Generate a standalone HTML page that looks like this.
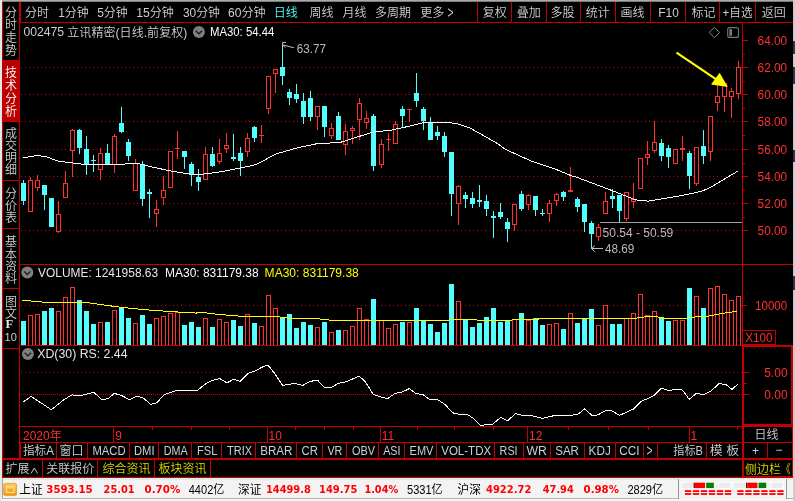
<!DOCTYPE html>
<html lang="zh"><head><meta charset="utf-8"><title>002475 立讯精密</title>
<style>html,body{margin:0;padding:0;background:#000;overflow:hidden}svg{display:block;will-change:transform;opacity:0.9999}text{white-space:pre}</style>
</head><body>
<svg width="795" height="501" viewBox="0 0 795 501" font-family='"Liberation Sans", "Noto Sans CJK SC", sans-serif' font-size="12" font-weight="350">
<rect x="0" y="0" width="795" height="501" fill="#000" />
<rect x="0" y="0" width="795" height="1" fill="#acacac" />
<rect x="0" y="1" width="795" height="1" fill="#7c7c7c" />
<rect x="0" y="0" width="2" height="501" fill="#e8e8e8" />
<rect x="793" y="0" width="2" height="501" fill="#cccccc" />
<rect x="793" y="41" width="2" height="13" fill="#283850" />
<rect x="793" y="67" width="2" height="17" fill="#283850" />
<rect x="793" y="150" width="2" height="12" fill="#283850" />
<rect x="793" y="276" width="2" height="14" fill="#283850" />
<rect x="2" y="2" width="1" height="475" fill="#c40000" />
<rect x="19" y="2" width="1" height="457" fill="#c40000" />
<rect x="20" y="2" width="1" height="20" fill="#c40000" />
<rect x="3" y="60" width="16" height="61" fill="#bc0000" />
<rect x="3" y="60" width="16" height="1" fill="#c40000" />
<rect x="3" y="121" width="16" height="1" fill="#c40000" />
<rect x="3" y="180" width="16" height="1" fill="#c40000" />
<rect x="3" y="228" width="16" height="1" fill="#c40000" />
<rect x="3" y="288" width="16" height="1" fill="#c40000" />
<rect x="3" y="348" width="16" height="1" fill="#c40000" />
<text x="11" y="16.5" fill="#d0d0d0" text-anchor="middle" >分</text>
<text x="11" y="29.2" fill="#d0d0d0" text-anchor="middle" >时</text>
<text x="11" y="42" fill="#d0d0d0" text-anchor="middle" >走</text>
<text x="11" y="54.7" fill="#d0d0d0" text-anchor="middle" >势</text>
<text x="11" y="77" fill="#ffffff" text-anchor="middle" >技</text>
<text x="11" y="90" fill="#ffffff" text-anchor="middle" >术</text>
<text x="11" y="103" fill="#ffffff" text-anchor="middle" >分</text>
<text x="11" y="115.7" fill="#ffffff" text-anchor="middle" >析</text>
<text x="11" y="138" fill="#d0d0d0" text-anchor="middle" >成</text>
<text x="11" y="150" fill="#d0d0d0" text-anchor="middle" >交</text>
<text x="11" y="162" fill="#d0d0d0" text-anchor="middle" >明</text>
<text x="11" y="174" fill="#d0d0d0" text-anchor="middle" >细</text>
<text x="11" y="198.2" fill="#d0d0d0" text-anchor="middle" >分</text>
<text x="11" y="210.2" fill="#d0d0d0" text-anchor="middle" >价</text>
<text x="11" y="222.2" fill="#d0d0d0" text-anchor="middle" >表</text>
<text x="11" y="246" fill="#d0d0d0" text-anchor="middle" >基</text>
<text x="11" y="258.5" fill="#d0d0d0" text-anchor="middle" >本</text>
<text x="11" y="270.7" fill="#d0d0d0" text-anchor="middle" >资</text>
<text x="11" y="282.7" fill="#d0d0d0" text-anchor="middle" >料</text>
<text x="11" y="305.5" fill="#d0d0d0" text-anchor="middle" >图</text>
<text x="11" y="318" fill="#d0d0d0" text-anchor="middle" >文</text>
<text x="9.2" y="327.6" fill="#e8e8e8" font-size="12.5" text-anchor="middle" font-weight="bold" font-family='"Liberation Serif", serif' >F</text>
<text x="10.7" y="341.3" fill="#d0d0d0" font-size="11" text-anchor="middle" >10</text>
<rect x="20" y="22" width="773" height="1" fill="#c40000" />
<text x="24.9" y="16.6" fill="#d0d0d0" >分时</text>
<text x="58.2" y="16.6" fill="#d0d0d0" textLength="30.6" lengthAdjust="spacingAndGlyphs" >1分钟</text>
<text x="97.2" y="16.6" fill="#d0d0d0" textLength="30.6" lengthAdjust="spacingAndGlyphs" >5分钟</text>
<text x="136.2" y="16.6" fill="#d0d0d0" textLength="37.8" lengthAdjust="spacingAndGlyphs" >15分钟</text>
<text x="183" y="16.6" fill="#d0d0d0" textLength="37" lengthAdjust="spacingAndGlyphs" >30分钟</text>
<text x="228" y="16.6" fill="#d0d0d0" textLength="37.5" lengthAdjust="spacingAndGlyphs" >60分钟</text>
<text x="273.8" y="16.6" fill="#54ffff" >日线</text>
<text x="309.4" y="16.6" fill="#d0d0d0" >周线</text>
<text x="342.4" y="16.6" fill="#d0d0d0" >月线</text>
<text x="375" y="16.6" fill="#d0d0d0" >多周期</text>
<text x="420.2" y="16.6" fill="#d0d0d0" >更多</text>
<text x="447.6" y="17.6" fill="#d0d0d0" font-size="16" textLength="6" lengthAdjust="spacingAndGlyphs" >&gt;</text>
<rect x="477" y="2" width="1" height="20" fill="#c40000" />
<rect x="511" y="2" width="1" height="20" fill="#c40000" />
<rect x="546" y="2" width="1" height="20" fill="#c40000" />
<rect x="580" y="2" width="1" height="20" fill="#c40000" />
<rect x="615" y="2" width="1" height="20" fill="#c40000" />
<rect x="650" y="2" width="1" height="20" fill="#c40000" />
<rect x="685" y="2" width="1" height="20" fill="#c40000" />
<rect x="719" y="2" width="1" height="20" fill="#c40000" />
<rect x="755" y="2" width="1" height="20" fill="#c40000" />
<rect x="792" y="345" width="1" height="132" fill="#c40000" />
<text x="482.8" y="16.6" fill="#d0d0d0" >复权</text>
<text x="516.8" y="16.6" fill="#d0d0d0" >叠加</text>
<text x="550.5" y="16.6" fill="#d0d0d0" >多股</text>
<text x="585.8" y="16.6" fill="#d0d0d0" >统计</text>
<text x="620.6" y="16.6" fill="#d0d0d0" >画线</text>
<text x="658.3" y="16.6" fill="#d0d0d0" textLength="20.6" lengthAdjust="spacingAndGlyphs" >F10</text>
<text x="691.5" y="16.6" fill="#d0d0d0" >标记</text>
<text x="722.6" y="16.6" fill="#d0d0d0" textLength="30" lengthAdjust="spacingAndGlyphs" >+自选</text>
<text x="761.8" y="16.6" fill="#d0d0d0" >返回</text>
<rect x="742" y="23" width="1" height="322" fill="#c40000" />
<rect x="20" y="264" width="773" height="1" fill="#c40000" />
<rect x="20" y="345" width="773" height="1" fill="#c40000" />
<line x1="21" x2="742" y1="67.5" y2="67.5" stroke="#c40000" stroke-dasharray="1 3" shape-rendering="crispEdges"/>
<line x1="21" x2="742" y1="94.5" y2="94.5" stroke="#c40000" stroke-dasharray="1 3" shape-rendering="crispEdges"/>
<line x1="21" x2="742" y1="121.5" y2="121.5" stroke="#c40000" stroke-dasharray="1 3" shape-rendering="crispEdges"/>
<line x1="21" x2="742" y1="149.5" y2="149.5" stroke="#c40000" stroke-dasharray="1 3" shape-rendering="crispEdges"/>
<line x1="21" x2="742" y1="176.5" y2="176.5" stroke="#c40000" stroke-dasharray="1 3" shape-rendering="crispEdges"/>
<line x1="21" x2="742" y1="203.5" y2="203.5" stroke="#c40000" stroke-dasharray="1 3" shape-rendering="crispEdges"/>
<line x1="21" x2="742" y1="230.5" y2="230.5" stroke="#c40000" stroke-dasharray="1 3" shape-rendering="crispEdges"/>
<rect x="742" y="40" width="6" height="1" fill="#c40000" />
<text x="757.6" y="45" fill="#ff3232" textLength="29.6" lengthAdjust="spacingAndGlyphs" >64.00</text>
<rect x="742" y="54" width="3" height="1" fill="#c40000" />
<rect x="742" y="67" width="6" height="1" fill="#c40000" />
<text x="757.6" y="72" fill="#ff3232" textLength="29.6" lengthAdjust="spacingAndGlyphs" >62.00</text>
<rect x="742" y="81" width="3" height="1" fill="#c40000" />
<rect x="742" y="94" width="6" height="1" fill="#c40000" />
<text x="757.6" y="99" fill="#ff3232" textLength="29.6" lengthAdjust="spacingAndGlyphs" >60.00</text>
<rect x="742" y="108" width="3" height="1" fill="#c40000" />
<rect x="742" y="121" width="6" height="1" fill="#c40000" />
<text x="757.6" y="126" fill="#ff3232" textLength="29.6" lengthAdjust="spacingAndGlyphs" >58.00</text>
<rect x="742" y="135" width="3" height="1" fill="#c40000" />
<rect x="742" y="149" width="6" height="1" fill="#c40000" />
<text x="757.6" y="154" fill="#ff3232" textLength="29.6" lengthAdjust="spacingAndGlyphs" >56.00</text>
<rect x="742" y="163" width="3" height="1" fill="#c40000" />
<rect x="742" y="176" width="6" height="1" fill="#c40000" />
<text x="757.6" y="181" fill="#ff3232" textLength="29.6" lengthAdjust="spacingAndGlyphs" >54.00</text>
<rect x="742" y="190" width="3" height="1" fill="#c40000" />
<rect x="742" y="203" width="6" height="1" fill="#c40000" />
<text x="757.6" y="208" fill="#ff3232" textLength="29.6" lengthAdjust="spacingAndGlyphs" >52.00</text>
<rect x="742" y="217" width="3" height="1" fill="#c40000" />
<rect x="742" y="230" width="6" height="1" fill="#c40000" />
<text x="757.6" y="235" fill="#ff3232" textLength="29.6" lengthAdjust="spacingAndGlyphs" >50.00</text>
<text x="23.5" y="36.4" fill="#d0d0d0" textLength="40.6" lengthAdjust="spacingAndGlyphs" >002475</text>
<text x="67.3" y="37.2" fill="#d0d0d0" textLength="120" lengthAdjust="spacingAndGlyphs" >立讯精密(日线.前复权)</text>
<circle cx="198.9" cy="31.9" r="6" fill="#808080"/>
<path d="M195.70000000000002 30.7 L198.9 33.8 L202.1 30.7" fill="none" stroke="#1c1c1c" stroke-width="1.3"/>
<text x="210" y="36.4" fill="#ffffff" textLength="64.3" lengthAdjust="spacingAndGlyphs" >MA30: 54.44</text>
<path d="M714.4 27.3 L719.6 32.5 L714.4 37.7 L709.2 32.5 Z" fill="none" stroke="#8a8a8a" stroke-width="1"/>
<rect x="727.7" y="27.6" width="10.8" height="9.8" rx="2" fill="none" stroke="#787878" stroke-width="1.1"/>
<rect x="729.3" y="29.2" width="2.8" height="6.6" fill="#787878" />
<g shape-rendering="crispEdges">
<rect x="23" y="180" width="1" height="25" fill="#54ffff" />
<rect x="21" y="183" width="5" height="18" fill="#54ffff" />
<rect x="30" y="177" width="1" height="3" fill="#ff3232" />
<rect x="28.5" y="180.5" width="4" height="31" fill="#000" stroke="#ff3232" stroke-width="1"/>
<rect x="37" y="175" width="1" height="5" fill="#ff3232" />
<rect x="37" y="188" width="1" height="3" fill="#ff3232" />
<rect x="35.5" y="180.5" width="4" height="7" fill="#000" stroke="#ff3232" stroke-width="1"/>
<rect x="44" y="185" width="1" height="25" fill="#54ffff" />
<rect x="42" y="185" width="5" height="10" fill="#54ffff" />
<rect x="51" y="198" width="1" height="29" fill="#54ffff" />
<rect x="49" y="198" width="5" height="29" fill="#54ffff" />
<rect x="58" y="201" width="1" height="13" fill="#ff3232" />
<rect x="58" y="232" width="1" height="1" fill="#ff3232" />
<rect x="56.5" y="214.5" width="4" height="17" fill="#000" stroke="#ff3232" stroke-width="1"/>
<rect x="65" y="171" width="1" height="12" fill="#ff3232" />
<rect x="63.5" y="183.5" width="4" height="14" fill="#000" stroke="#ff3232" stroke-width="1"/>
<rect x="72" y="129" width="1" height="1" fill="#ff3232" />
<rect x="72" y="151" width="1" height="26" fill="#ff3232" />
<rect x="70.5" y="130.5" width="4" height="20" fill="#000" stroke="#ff3232" stroke-width="1"/>
<rect x="79" y="129" width="1" height="25" fill="#54ffff" />
<rect x="77" y="130" width="5" height="18" fill="#54ffff" />
<rect x="86" y="136" width="1" height="39" fill="#54ffff" />
<rect x="84" y="149" width="5" height="16" fill="#54ffff" />
<rect x="93" y="155" width="1" height="17" fill="#54ffff" />
<rect x="91" y="160" width="5" height="1" fill="#54ffff" />
<rect x="100" y="148" width="1" height="5" fill="#ff3232" />
<rect x="100" y="170" width="1" height="10" fill="#ff3232" />
<rect x="98.5" y="153.5" width="4" height="16" fill="#000" stroke="#ff3232" stroke-width="1"/>
<rect x="107" y="144" width="1" height="20" fill="#54ffff" />
<rect x="105" y="153" width="5" height="11" fill="#54ffff" />
<rect x="114" y="134" width="1" height="2" fill="#ff3232" />
<rect x="114" y="165" width="1" height="8" fill="#ff3232" />
<rect x="112.5" y="136.5" width="4" height="28" fill="#000" stroke="#ff3232" stroke-width="1"/>
<rect x="121" y="107" width="1" height="26" fill="#54ffff" />
<rect x="119" y="123" width="5" height="9" fill="#54ffff" />
<rect x="128" y="139" width="1" height="22" fill="#54ffff" />
<rect x="126" y="142" width="5" height="14" fill="#54ffff" />
<rect x="135" y="159" width="1" height="4" fill="#ff3232" />
<rect x="133.5" y="163.5" width="4" height="27" fill="#000" stroke="#ff3232" stroke-width="1"/>
<rect x="142" y="161" width="1" height="45" fill="#54ffff" />
<rect x="140" y="164" width="5" height="35" fill="#54ffff" />
<rect x="149" y="189" width="1" height="29" fill="#54ffff" />
<rect x="147" y="192" width="5" height="2" fill="#54ffff" />
<rect x="156" y="200" width="1" height="9" fill="#ff3232" />
<rect x="156" y="214" width="1" height="13" fill="#ff3232" />
<rect x="154.5" y="209.5" width="4" height="4" fill="#000" stroke="#ff3232" stroke-width="1"/>
<rect x="163" y="176" width="1" height="14" fill="#ff3232" />
<rect x="163" y="198" width="1" height="7" fill="#ff3232" />
<rect x="161.5" y="190.5" width="4" height="7" fill="#000" stroke="#ff3232" stroke-width="1"/>
<rect x="168.5" y="151.5" width="4" height="36" fill="#000" stroke="#ff3232" stroke-width="1"/>
<rect x="177" y="131" width="1" height="17" fill="#ff3232" />
<rect x="177" y="149" width="1" height="10" fill="#ff3232" />
<rect x="175" y="148" width="5" height="1" fill="#ff3232" />
<rect x="184" y="151" width="1" height="18" fill="#54ffff" />
<rect x="182" y="151" width="5" height="6" fill="#54ffff" />
<rect x="191" y="162" width="1" height="24" fill="#54ffff" />
<rect x="189" y="164" width="5" height="11" fill="#54ffff" />
<rect x="198" y="169" width="1" height="22" fill="#54ffff" />
<rect x="196" y="177" width="5" height="5" fill="#54ffff" />
<rect x="205" y="147" width="1" height="7" fill="#ff3232" />
<rect x="203.5" y="154.5" width="4" height="25" fill="#000" stroke="#ff3232" stroke-width="1"/>
<rect x="212" y="147" width="1" height="20" fill="#54ffff" />
<rect x="210" y="154" width="5" height="12" fill="#54ffff" />
<rect x="219" y="139" width="1" height="14" fill="#ff3232" />
<rect x="219" y="162" width="1" height="2" fill="#ff3232" />
<rect x="217.5" y="153.5" width="4" height="8" fill="#000" stroke="#ff3232" stroke-width="1"/>
<rect x="226" y="133" width="1" height="12" fill="#ff3232" />
<rect x="226" y="149" width="1" height="4" fill="#ff3232" />
<rect x="224.5" y="145.5" width="4" height="3" fill="#000" stroke="#ff3232" stroke-width="1"/>
<rect x="233" y="134" width="1" height="27" fill="#54ffff" />
<rect x="231" y="157" width="5" height="2" fill="#54ffff" />
<rect x="240" y="147" width="1" height="29" fill="#54ffff" />
<rect x="238" y="153" width="5" height="8" fill="#54ffff" />
<rect x="247" y="133" width="1" height="5" fill="#ff3232" />
<rect x="247" y="152" width="1" height="5" fill="#ff3232" />
<rect x="245.5" y="138.5" width="4" height="13" fill="#000" stroke="#ff3232" stroke-width="1"/>
<rect x="254" y="126" width="1" height="16" fill="#54ffff" />
<rect x="252" y="127" width="5" height="11" fill="#54ffff" />
<rect x="261" y="125" width="1" height="10" fill="#ff3232" />
<rect x="261" y="136" width="1" height="7" fill="#ff3232" />
<rect x="259" y="135" width="5" height="1" fill="#ff3232" />
<rect x="268" y="109" width="1" height="5" fill="#ff3232" />
<rect x="266.5" y="76.5" width="4" height="32" fill="#000" stroke="#ff3232" stroke-width="1"/>
<rect x="275" y="74" width="1" height="19" fill="#ff3232" />
<rect x="273.5" y="69.5" width="4" height="4" fill="#000" stroke="#ff3232" stroke-width="1"/>
<rect x="282" y="44" width="1" height="41" fill="#54ffff" />
<rect x="280" y="67" width="5" height="9" fill="#54ffff" />
<rect x="289" y="89" width="1" height="16" fill="#54ffff" />
<rect x="287" y="92" width="5" height="6" fill="#54ffff" />
<rect x="296" y="84" width="1" height="19" fill="#54ffff" />
<rect x="294" y="94" width="5" height="5" fill="#54ffff" />
<rect x="303" y="93" width="1" height="31" fill="#54ffff" />
<rect x="301" y="101" width="5" height="16" fill="#54ffff" />
<rect x="310" y="91" width="1" height="30" fill="#54ffff" />
<rect x="308" y="98" width="5" height="19" fill="#54ffff" />
<rect x="317" y="117" width="1" height="13" fill="#ff3232" />
<rect x="315.5" y="106.5" width="4" height="10" fill="#000" stroke="#ff3232" stroke-width="1"/>
<rect x="324" y="106" width="1" height="31" fill="#54ffff" />
<rect x="322" y="106" width="5" height="21" fill="#54ffff" />
<rect x="331" y="123" width="1" height="5" fill="#ff3232" />
<rect x="331" y="136" width="1" height="3" fill="#ff3232" />
<rect x="329.5" y="128.5" width="4" height="7" fill="#000" stroke="#ff3232" stroke-width="1"/>
<rect x="338" y="112" width="1" height="28" fill="#54ffff" />
<rect x="336" y="116" width="5" height="24" fill="#54ffff" />
<rect x="345" y="124" width="1" height="7" fill="#ff3232" />
<rect x="345" y="145" width="1" height="10" fill="#ff3232" />
<rect x="343.5" y="131.5" width="4" height="13" fill="#000" stroke="#ff3232" stroke-width="1"/>
<rect x="352" y="126" width="1" height="2" fill="#ff3232" />
<rect x="352" y="131" width="1" height="13" fill="#ff3232" />
<rect x="350.5" y="128.5" width="4" height="2" fill="#000" stroke="#ff3232" stroke-width="1"/>
<rect x="359" y="98" width="1" height="5" fill="#ff3232" />
<rect x="359" y="120" width="1" height="20" fill="#ff3232" />
<rect x="357.5" y="103.5" width="4" height="16" fill="#000" stroke="#ff3232" stroke-width="1"/>
<rect x="366" y="111" width="1" height="7" fill="#ff3232" />
<rect x="366" y="123" width="1" height="6" fill="#ff3232" />
<rect x="364.5" y="118.5" width="4" height="4" fill="#000" stroke="#ff3232" stroke-width="1"/>
<rect x="373" y="114" width="1" height="57" fill="#54ffff" />
<rect x="371" y="116" width="5" height="50" fill="#54ffff" />
<rect x="381" y="139" width="1" height="5" fill="#ff3232" />
<rect x="381" y="165" width="1" height="3" fill="#ff3232" />
<rect x="379.5" y="144.5" width="4" height="20" fill="#000" stroke="#ff3232" stroke-width="1"/>
<rect x="388" y="133" width="1" height="6" fill="#ff3232" />
<rect x="388" y="140" width="1" height="11" fill="#ff3232" />
<rect x="386" y="139" width="5" height="1" fill="#ff3232" />
<rect x="395" y="121" width="1" height="3" fill="#ff3232" />
<rect x="393.5" y="124.5" width="4" height="19" fill="#000" stroke="#ff3232" stroke-width="1"/>
<rect x="402" y="106" width="1" height="22" fill="#54ffff" />
<rect x="400" y="109" width="5" height="7" fill="#54ffff" />
<rect x="409" y="110" width="1" height="12" fill="#ff3232" />
<rect x="407" y="109" width="5" height="1" fill="#ff3232" />
<rect x="416" y="73" width="1" height="34" fill="#54ffff" />
<rect x="414" y="93" width="5" height="8" fill="#54ffff" />
<rect x="423" y="107" width="1" height="23" fill="#54ffff" />
<rect x="421" y="109" width="5" height="12" fill="#54ffff" />
<rect x="430" y="117" width="1" height="23" fill="#54ffff" />
<rect x="428" y="122" width="5" height="18" fill="#54ffff" />
<rect x="437" y="126" width="1" height="14" fill="#54ffff" />
<rect x="435" y="132" width="5" height="4" fill="#54ffff" />
<rect x="444" y="132" width="1" height="25" fill="#54ffff" />
<rect x="442" y="136" width="5" height="16" fill="#54ffff" />
<rect x="451" y="152" width="1" height="64" fill="#54ffff" />
<rect x="449" y="152" width="5" height="42" fill="#54ffff" />
<rect x="458" y="185" width="1" height="1" fill="#ff3232" />
<rect x="458" y="204" width="1" height="21" fill="#ff3232" />
<rect x="456.5" y="186.5" width="4" height="17" fill="#000" stroke="#ff3232" stroke-width="1"/>
<rect x="465" y="192" width="1" height="16" fill="#54ffff" />
<rect x="463" y="195" width="5" height="4" fill="#54ffff" />
<rect x="472" y="192" width="1" height="16" fill="#54ffff" />
<rect x="470" y="198" width="5" height="6" fill="#54ffff" />
<rect x="479" y="185" width="1" height="22" fill="#54ffff" />
<rect x="477" y="200" width="5" height="2" fill="#54ffff" />
<rect x="486" y="195" width="1" height="21" fill="#54ffff" />
<rect x="484" y="201" width="5" height="8" fill="#54ffff" />
<rect x="493" y="211" width="1" height="27" fill="#54ffff" />
<rect x="491" y="216" width="5" height="2" fill="#54ffff" />
<rect x="500" y="203" width="1" height="16" fill="#54ffff" />
<rect x="498" y="212" width="5" height="5" fill="#54ffff" />
<rect x="507" y="218" width="1" height="24" fill="#54ffff" />
<rect x="505" y="222" width="5" height="7" fill="#54ffff" />
<rect x="514" y="225" width="1" height="6" fill="#ff3232" />
<rect x="512.5" y="204.5" width="4" height="20" fill="#000" stroke="#ff3232" stroke-width="1"/>
<rect x="521" y="191" width="1" height="20" fill="#54ffff" />
<rect x="519" y="194" width="5" height="15" fill="#54ffff" />
<rect x="528" y="194" width="1" height="1" fill="#ff3232" />
<rect x="528" y="205" width="1" height="5" fill="#ff3232" />
<rect x="526.5" y="195.5" width="4" height="9" fill="#000" stroke="#ff3232" stroke-width="1"/>
<rect x="535" y="196" width="1" height="20" fill="#54ffff" />
<rect x="533" y="196" width="5" height="14" fill="#54ffff" />
<rect x="542" y="209" width="1" height="7" fill="#54ffff" />
<rect x="540" y="213" width="5" height="1" fill="#54ffff" />
<rect x="549" y="200" width="1" height="3" fill="#ff3232" />
<rect x="549" y="214" width="1" height="8" fill="#ff3232" />
<rect x="547.5" y="203.5" width="4" height="10" fill="#000" stroke="#ff3232" stroke-width="1"/>
<rect x="556" y="193" width="1" height="1" fill="#ff3232" />
<rect x="556" y="201" width="1" height="5" fill="#ff3232" />
<rect x="554.5" y="194.5" width="4" height="6" fill="#000" stroke="#ff3232" stroke-width="1"/>
<rect x="563" y="191" width="1" height="10" fill="#54ffff" />
<rect x="561" y="192" width="5" height="5" fill="#54ffff" />
<rect x="570" y="167" width="1" height="23" fill="#ff3232" />
<rect x="568" y="190" width="5" height="2" fill="#ff3232" />
<rect x="577" y="197" width="1" height="15" fill="#54ffff" />
<rect x="575" y="199" width="5" height="8" fill="#54ffff" />
<rect x="584" y="204" width="1" height="28" fill="#54ffff" />
<rect x="582" y="204" width="5" height="18" fill="#54ffff" />
<rect x="591" y="221" width="1" height="28" fill="#54ffff" />
<rect x="589" y="223" width="5" height="11" fill="#54ffff" />
<rect x="598" y="224" width="1" height="3" fill="#ff3232" />
<rect x="598" y="237" width="1" height="4" fill="#ff3232" />
<rect x="596.5" y="227.5" width="4" height="9" fill="#000" stroke="#ff3232" stroke-width="1"/>
<rect x="605" y="192" width="1" height="9" fill="#ff3232" />
<rect x="603.5" y="201.5" width="4" height="12" fill="#000" stroke="#ff3232" stroke-width="1"/>
<rect x="612" y="189" width="1" height="19" fill="#54ffff" />
<rect x="610" y="196" width="5" height="3" fill="#54ffff" />
<rect x="619" y="195" width="1" height="27" fill="#54ffff" />
<rect x="617" y="195" width="5" height="16" fill="#54ffff" />
<rect x="626" y="219" width="1" height="2" fill="#ff3232" />
<rect x="624.5" y="192.5" width="4" height="26" fill="#000" stroke="#ff3232" stroke-width="1"/>
<rect x="633" y="183" width="1" height="16" fill="#ff3232" />
<rect x="633" y="202" width="1" height="6" fill="#ff3232" />
<rect x="631.5" y="199.5" width="4" height="2" fill="#000" stroke="#ff3232" stroke-width="1"/>
<rect x="638.5" y="158.5" width="4" height="30" fill="#000" stroke="#ff3232" stroke-width="1"/>
<rect x="647" y="141" width="1" height="13" fill="#ff3232" />
<rect x="647" y="158" width="1" height="7" fill="#ff3232" />
<rect x="645.5" y="154.5" width="4" height="3" fill="#000" stroke="#ff3232" stroke-width="1"/>
<rect x="654" y="121" width="1" height="21" fill="#ff3232" />
<rect x="654" y="151" width="1" height="2" fill="#ff3232" />
<rect x="652.5" y="142.5" width="4" height="8" fill="#000" stroke="#ff3232" stroke-width="1"/>
<rect x="661" y="139" width="1" height="22" fill="#54ffff" />
<rect x="659" y="143" width="5" height="13" fill="#54ffff" />
<rect x="668" y="145" width="1" height="23" fill="#54ffff" />
<rect x="666" y="148" width="5" height="9" fill="#54ffff" />
<rect x="673.5" y="149.5" width="4" height="14" fill="#000" stroke="#ff3232" stroke-width="1"/>
<rect x="682" y="136" width="1" height="12" fill="#ff3232" />
<rect x="682" y="150" width="1" height="11" fill="#ff3232" />
<rect x="680" y="148" width="5" height="2" fill="#ff3232" />
<rect x="689" y="151" width="1" height="38" fill="#54ffff" />
<rect x="687" y="153" width="5" height="23" fill="#54ffff" />
<rect x="696" y="184" width="1" height="2" fill="#ff3232" />
<rect x="694.5" y="147.5" width="4" height="36" fill="#000" stroke="#ff3232" stroke-width="1"/>
<rect x="703" y="130" width="1" height="34" fill="#54ffff" />
<rect x="701" y="146" width="5" height="10" fill="#54ffff" />
<rect x="710" y="152" width="1" height="9" fill="#ff3232" />
<rect x="708.5" y="116.5" width="4" height="35" fill="#000" stroke="#ff3232" stroke-width="1"/>
<rect x="717" y="85" width="1" height="11" fill="#ff3232" />
<rect x="717" y="103" width="1" height="8" fill="#ff3232" />
<rect x="715.5" y="96.5" width="4" height="6" fill="#000" stroke="#ff3232" stroke-width="1"/>
<rect x="724" y="97" width="1" height="15" fill="#ff3232" />
<rect x="722.5" y="83.5" width="4" height="13" fill="#000" stroke="#ff3232" stroke-width="1"/>
<rect x="731" y="88" width="1" height="3" fill="#ff3232" />
<rect x="731" y="97" width="1" height="21" fill="#ff3232" />
<rect x="729.5" y="91.5" width="4" height="5" fill="#000" stroke="#ff3232" stroke-width="1"/>
<rect x="738" y="61" width="1" height="6" fill="#ff3232" />
<rect x="738" y="94" width="1" height="5" fill="#ff3232" />
<rect x="736.5" y="67.5" width="4" height="26" fill="#000" stroke="#ff3232" stroke-width="1"/>
</g>
<rect x="600" y="222" width="142" height="1" fill="#a0a0a0" />
<polyline shape-rendering="crispEdges" fill="none" stroke="#ffffff" stroke-width="1" points="23.1,158.0 36.9,155.4 45.9,156.7 58.9,161.3 84.8,164.5 110.8,165.0 136.7,163.2 154.9,167.6 170.4,170.9 180.0,172.6 193.0,174.7 205.9,173.9 218.9,172.1 239.6,168.2 255.2,164.8 263.0,160.9 276.0,153.9 296.7,148.0 317.4,143.6 340.0,142.5 372.9,132.1 391.9,130.0 407.4,126.6 425.6,122.2 443.7,122.2 456.7,123.5 469.7,127.9 485.2,136.5 498.7,144.3 505.6,149.5 531.5,161.1 554.9,168.9 570.4,175.4 578.2,177.8 609.3,189.5 635.2,199.8 648.2,201.1 671.5,197.3 680.0,195.8 693.0,193.2 703.4,190.6 713.8,185.5 726.8,177.7 737.7,171.2"/>
<text x="296.8" y="53" fill="#bcbcbc" textLength="29.2" lengthAdjust="spacingAndGlyphs" >63.77</text>
<path d="M294 47.8 L282.6 44.9 M282.6 46 V42.4 H286 M283 45.2 L285.2 47.6" fill="none" stroke="#c0c0c0" stroke-width="1"/>
<text x="602.6" y="236.6" fill="#bcbcbc" textLength="70.7" lengthAdjust="spacingAndGlyphs" >50.54 - 50.59</text>
<text x="604.9" y="253.4" fill="#bcbcbc" textLength="29.4" lengthAdjust="spacingAndGlyphs" >48.69</text>
<path d="M603 248.5 H591.5 M594.8 245.6 L591.5 248.5 L594.8 251.8" fill="none" stroke="#c0c0c0" stroke-width="1"/>
<path d="M676.5 52.6 L717 79.8" stroke="#ffff00" stroke-width="2.2" fill="none"/>
<path d="M719.6 72.8 L711 84.6 L727.9 87 Z" fill="#ffff00"/>
<circle cx="27.3" cy="272.6" r="6" fill="#808080"/>
<path d="M24.1 271.40000000000003 L27.3 274.5 L30.5 271.40000000000003" fill="none" stroke="#1c1c1c" stroke-width="1.3"/>
<text x="38.1" y="277" fill="#e8e8e8" textLength="120" lengthAdjust="spacingAndGlyphs" >VOLUME: 1241958.63</text>
<text x="165" y="277" fill="#ffffff" textLength="93.7" lengthAdjust="spacingAndGlyphs" >MA30: 831179.38</text>
<text x="264.6" y="277" fill="#ffff00" textLength="94.2" lengthAdjust="spacingAndGlyphs" >MA30: 831179.38</text>
<line x1="21" x2="742" y1="305.5" y2="305.5" stroke="#c40000" stroke-dasharray="1 3" shape-rendering="crispEdges"/>
<g shape-rendering="crispEdges">
<rect x="21" y="321" width="5" height="24" fill="#54ffff" />
<rect x="28.5" y="315.5" width="4" height="30" fill="#000" stroke="#ff3232" stroke-width="1"/>
<rect x="35.5" y="314.5" width="4" height="31" fill="#000" stroke="#ff3232" stroke-width="1"/>
<rect x="42" y="311" width="5" height="34" fill="#54ffff" />
<rect x="49" y="308" width="5" height="37" fill="#54ffff" />
<rect x="56.5" y="311.5" width="4" height="34" fill="#000" stroke="#ff3232" stroke-width="1"/>
<rect x="63.5" y="297.5" width="4" height="48" fill="#000" stroke="#ff3232" stroke-width="1"/>
<rect x="70.5" y="287.5" width="4" height="58" fill="#000" stroke="#ff3232" stroke-width="1"/>
<rect x="77" y="300" width="5" height="45" fill="#54ffff" />
<rect x="84" y="311" width="5" height="34" fill="#54ffff" />
<rect x="91" y="324" width="5" height="21" fill="#54ffff" />
<rect x="98.5" y="322.5" width="4" height="23" fill="#000" stroke="#ff3232" stroke-width="1"/>
<rect x="105" y="322" width="5" height="23" fill="#54ffff" />
<rect x="112.5" y="310.5" width="4" height="35" fill="#000" stroke="#ff3232" stroke-width="1"/>
<rect x="119" y="307" width="5" height="38" fill="#54ffff" />
<rect x="126" y="318" width="5" height="27" fill="#54ffff" />
<rect x="133.5" y="323.5" width="4" height="22" fill="#000" stroke="#ff3232" stroke-width="1"/>
<rect x="140" y="315" width="5" height="30" fill="#54ffff" />
<rect x="147" y="324" width="5" height="21" fill="#54ffff" />
<rect x="154.5" y="318.5" width="4" height="27" fill="#000" stroke="#ff3232" stroke-width="1"/>
<rect x="161.5" y="316.5" width="4" height="29" fill="#000" stroke="#ff3232" stroke-width="1"/>
<rect x="168.5" y="313.5" width="4" height="32" fill="#000" stroke="#ff3232" stroke-width="1"/>
<rect x="175.5" y="312.5" width="4" height="33" fill="#000" stroke="#ff3232" stroke-width="1"/>
<rect x="182" y="325" width="5" height="20" fill="#54ffff" />
<rect x="189" y="322" width="5" height="23" fill="#54ffff" />
<rect x="196" y="327" width="5" height="18" fill="#54ffff" />
<rect x="203.5" y="318.5" width="4" height="27" fill="#000" stroke="#ff3232" stroke-width="1"/>
<rect x="210" y="327" width="5" height="18" fill="#54ffff" />
<rect x="217.5" y="319.5" width="4" height="26" fill="#000" stroke="#ff3232" stroke-width="1"/>
<rect x="224.5" y="322.5" width="4" height="23" fill="#000" stroke="#ff3232" stroke-width="1"/>
<rect x="231" y="320" width="5" height="25" fill="#54ffff" />
<rect x="238" y="326" width="5" height="19" fill="#54ffff" />
<rect x="245.5" y="314.5" width="4" height="31" fill="#000" stroke="#ff3232" stroke-width="1"/>
<rect x="252" y="323" width="5" height="22" fill="#54ffff" />
<rect x="259.5" y="326.5" width="4" height="19" fill="#000" stroke="#ff3232" stroke-width="1"/>
<rect x="266.5" y="295.5" width="4" height="50" fill="#000" stroke="#ff3232" stroke-width="1"/>
<rect x="273.5" y="308.5" width="4" height="37" fill="#000" stroke="#ff3232" stroke-width="1"/>
<rect x="280" y="317" width="5" height="28" fill="#54ffff" />
<rect x="287" y="314" width="5" height="31" fill="#54ffff" />
<rect x="294" y="328" width="5" height="17" fill="#54ffff" />
<rect x="301" y="322" width="5" height="23" fill="#54ffff" />
<rect x="308" y="325" width="5" height="20" fill="#54ffff" />
<rect x="315.5" y="327.5" width="4" height="18" fill="#000" stroke="#ff3232" stroke-width="1"/>
<rect x="322" y="322" width="5" height="23" fill="#54ffff" />
<rect x="329.5" y="332.5" width="4" height="13" fill="#000" stroke="#ff3232" stroke-width="1"/>
<rect x="336" y="330" width="5" height="15" fill="#54ffff" />
<rect x="343.5" y="330.5" width="4" height="15" fill="#000" stroke="#ff3232" stroke-width="1"/>
<rect x="350.5" y="326.5" width="4" height="19" fill="#000" stroke="#ff3232" stroke-width="1"/>
<rect x="357.5" y="308.5" width="4" height="37" fill="#000" stroke="#ff3232" stroke-width="1"/>
<rect x="364.5" y="319.5" width="4" height="26" fill="#000" stroke="#ff3232" stroke-width="1"/>
<rect x="371" y="299" width="5" height="46" fill="#54ffff" />
<rect x="379.5" y="320.5" width="4" height="25" fill="#000" stroke="#ff3232" stroke-width="1"/>
<rect x="386.5" y="328.5" width="4" height="17" fill="#000" stroke="#ff3232" stroke-width="1"/>
<rect x="393.5" y="324.5" width="4" height="21" fill="#000" stroke="#ff3232" stroke-width="1"/>
<rect x="400" y="322" width="5" height="23" fill="#54ffff" />
<rect x="407.5" y="322.5" width="4" height="23" fill="#000" stroke="#ff3232" stroke-width="1"/>
<rect x="414" y="308" width="5" height="37" fill="#54ffff" />
<rect x="421" y="320" width="5" height="25" fill="#54ffff" />
<rect x="428" y="324" width="5" height="21" fill="#54ffff" />
<rect x="435" y="332" width="5" height="13" fill="#54ffff" />
<rect x="442" y="323" width="5" height="22" fill="#54ffff" />
<rect x="449" y="284" width="5" height="61" fill="#54ffff" />
<rect x="456.5" y="301.5" width="4" height="44" fill="#000" stroke="#ff3232" stroke-width="1"/>
<rect x="463" y="320" width="5" height="25" fill="#54ffff" />
<rect x="470" y="327" width="5" height="18" fill="#54ffff" />
<rect x="477" y="323" width="5" height="22" fill="#54ffff" />
<rect x="484" y="317" width="5" height="28" fill="#54ffff" />
<rect x="491" y="308" width="5" height="37" fill="#54ffff" />
<rect x="498" y="322" width="5" height="23" fill="#54ffff" />
<rect x="505" y="320" width="5" height="25" fill="#54ffff" />
<rect x="512.5" y="319.5" width="4" height="26" fill="#000" stroke="#ff3232" stroke-width="1"/>
<rect x="519" y="313" width="5" height="32" fill="#54ffff" />
<rect x="526.5" y="320.5" width="4" height="25" fill="#000" stroke="#ff3232" stroke-width="1"/>
<rect x="533" y="318" width="5" height="27" fill="#54ffff" />
<rect x="540" y="325" width="5" height="20" fill="#54ffff" />
<rect x="547.5" y="324.5" width="4" height="21" fill="#000" stroke="#ff3232" stroke-width="1"/>
<rect x="554.5" y="323.5" width="4" height="22" fill="#000" stroke="#ff3232" stroke-width="1"/>
<rect x="561" y="329" width="5" height="16" fill="#54ffff" />
<rect x="568.5" y="313.5" width="4" height="32" fill="#000" stroke="#ff3232" stroke-width="1"/>
<rect x="575" y="323" width="5" height="22" fill="#54ffff" />
<rect x="582" y="319" width="5" height="26" fill="#54ffff" />
<rect x="589" y="309" width="5" height="36" fill="#54ffff" />
<rect x="596.5" y="325.5" width="4" height="20" fill="#000" stroke="#ff3232" stroke-width="1"/>
<rect x="603.5" y="305.5" width="4" height="40" fill="#000" stroke="#ff3232" stroke-width="1"/>
<rect x="610" y="324" width="5" height="21" fill="#54ffff" />
<rect x="617" y="324" width="5" height="21" fill="#54ffff" />
<rect x="624.5" y="318.5" width="4" height="27" fill="#000" stroke="#ff3232" stroke-width="1"/>
<rect x="631.5" y="313.5" width="4" height="32" fill="#000" stroke="#ff3232" stroke-width="1"/>
<rect x="638.5" y="294.5" width="4" height="51" fill="#000" stroke="#ff3232" stroke-width="1"/>
<rect x="645.5" y="315.5" width="4" height="30" fill="#000" stroke="#ff3232" stroke-width="1"/>
<rect x="652.5" y="311.5" width="4" height="34" fill="#000" stroke="#ff3232" stroke-width="1"/>
<rect x="659" y="317" width="5" height="28" fill="#54ffff" />
<rect x="666" y="321" width="5" height="24" fill="#54ffff" />
<rect x="673.5" y="320.5" width="4" height="25" fill="#000" stroke="#ff3232" stroke-width="1"/>
<rect x="680.5" y="320.5" width="4" height="25" fill="#000" stroke="#ff3232" stroke-width="1"/>
<rect x="687" y="288" width="5" height="57" fill="#54ffff" />
<rect x="694.5" y="296.5" width="4" height="49" fill="#000" stroke="#ff3232" stroke-width="1"/>
<rect x="701" y="308" width="5" height="37" fill="#54ffff" />
<rect x="708.5" y="288.5" width="4" height="57" fill="#000" stroke="#ff3232" stroke-width="1"/>
<rect x="715.5" y="286.5" width="4" height="59" fill="#000" stroke="#ff3232" stroke-width="1"/>
<rect x="722.5" y="294.5" width="4" height="51" fill="#000" stroke="#ff3232" stroke-width="1"/>
<rect x="729.5" y="300.5" width="4" height="45" fill="#000" stroke="#ff3232" stroke-width="1"/>
<rect x="736.5" y="296.5" width="4" height="49" fill="#000" stroke="#ff3232" stroke-width="1"/>
</g>
<rect x="20" y="345" width="773" height="1" fill="#c40000" />
<polyline shape-rendering="crispEdges" fill="none" stroke="#ffff00" stroke-width="1" points="22.5,300.2 45.2,302.3 85.4,302.3 103.0,304.8 120.6,307.3 145.8,309.8 170.9,311.6 196.1,313.1 200.0,312.2 215.1,314.0 232.7,315.7 250.3,316.7 278.0,316.7 288.1,318.2 313.2,318.2 325.8,319.7 338.4,320.8 350.9,320.8 361.0,320.3 383.6,320.3 385.0,320.8 405.2,320.8 407.7,320.3 447.9,320.3 450.4,319.5 475.6,319.5 478.1,320.3 510.8,320.3 513.3,319.5 536.0,319.5 541.0,318.5 567.5,318.5 635.5,318.5 638.0,317.7 648.1,316.5 655.6,316.5 660.6,317.7 665.7,318.5 685.8,318.5 690.8,317.2 705.9,316.5 713.5,315.2 721.0,313.5 731.1,312.2 737.4,311.2"/>
<rect x="742" y="305" width="5" height="1" fill="#c40000" />
<text x="755" y="309.8" fill="#ff3232" textLength="32.2" lengthAdjust="spacingAndGlyphs" >10000</text>
<rect x="742.5" y="330.5" width="33" height="14" fill="none" stroke="#c40000"/>
<text x="745.3" y="342" fill="#ff3232" textLength="27.3" lengthAdjust="spacingAndGlyphs" >X100</text>
<circle cx="27.9" cy="354" r="6" fill="#808080"/>
<path d="M24.7 352.8 L27.9 355.9 L31.099999999999998 352.8" fill="none" stroke="#1c1c1c" stroke-width="1.3"/>
<text x="37.3" y="358.2" fill="#e8e8e8" textLength="90.2" lengthAdjust="spacingAndGlyphs" >XD(30) RS: 2.44</text>
<line x1="21" x2="742" y1="372.5" y2="372.5" stroke="#c40000" stroke-dasharray="1 3" shape-rendering="crispEdges"/>
<line x1="21" x2="742" y1="394.5" y2="394.5" stroke="#c40000" stroke-dasharray="1 1" shape-rendering="crispEdges"/>
<polyline shape-rendering="crispEdges" fill="none" stroke="#ffffff" stroke-width="1" points="23.1,402.1 31.0,396.5 37.3,400.5 51.4,409.7 64.0,399.6 71.9,394.9 79.7,395.8 93.9,392.4 101.8,399.6 108.1,398.7 114.3,393.3 122.2,395.8 129.4,399.6 136.4,396.5 142.6,397.4 150.5,404.3 156.8,402.7 164.7,394.3 177.2,390.2 197.7,390.2 205.5,383.9 211.8,380.7 219.7,378.5 226.9,382.9 233.8,379.2 240.1,381.4 248.0,373.5 254.3,371.3 262.1,367.2 267.9,365.0 274.2,372.9 282.6,385.5 294.6,383.3 302.5,385.5 310.3,381.4 317.5,380.1 324.5,387.7 330.8,387.7 338.6,383.3 346.5,381.7 359.1,376.0 365.3,381.7 373.2,394.3 381.1,397.1 387.4,398.7 395.2,393.3 401.5,392.4 409.4,388.6 415.7,393.3 423.5,394.9 429.8,399.6 437.7,399.6 445.5,404.9 452.5,412.8 459.7,414.4 467.5,414.7 473.8,418.5 480.1,425.4 492.7,424.1 500.6,417.5 507.4,420.9 515.6,413.5 522.3,415.4 531.5,415.7 542.7,418.3 553.8,415.7 568.6,415.7 577.9,414.2 584.6,409.0 592.8,416.1 598.3,414.6 605.8,410.5 611.3,410.5 619.5,415.4 626.2,412.4 633.6,409.0 641.0,401.3 647.7,398.7 654.0,395.7 661.4,388.3 668.8,390.5 676.3,389.4 682.6,390.1 689.2,399.4 696.7,393.1 703.3,394.9 710.8,391.2 718.9,383.8 725.6,384.2 731.9,389.4 738.2,383.8"/>
<rect x="743" y="346" width="49" height="79" fill="none" stroke="#c40000" stroke-width="2" shape-rendering="crispEdges"/>
<rect x="744" y="372" width="5" height="1" fill="#c40000" />
<rect x="744" y="394" width="5" height="1" fill="#c40000" />
<rect x="744" y="383" width="3" height="1" fill="#c40000" />
<text x="764.2" y="377" fill="#ff3232" textLength="23.4" lengthAdjust="spacingAndGlyphs" >5.00</text>
<text x="764.2" y="399" fill="#ff3232" textLength="23.4" lengthAdjust="spacingAndGlyphs" >0.00</text>
<rect x="20" y="426" width="773" height="1" fill="#c40000" />
<rect x="20" y="442" width="773" height="1" fill="#c40000" />
<rect x="742" y="426" width="2" height="51" fill="#c40000" />
<text x="23" y="439.6" fill="#ff3232" >2020年</text>
<text x="115.2" y="439.6" fill="#ff3232" >9</text>
<text x="268.6" y="439.6" fill="#ff3232" >10</text>
<text x="381.8" y="439.6" fill="#ff3232" >11</text>
<text x="529" y="439.6" fill="#ff3232" >12</text>
<text x="690.4" y="439.6" fill="#ff3232" >1</text>
<rect x="113" y="427" width="1" height="15" fill="#c40000" />
<rect x="267" y="427" width="1" height="15" fill="#c40000" />
<rect x="380" y="427" width="1" height="15" fill="#c40000" />
<rect x="527" y="427" width="1" height="15" fill="#c40000" />
<rect x="689" y="427" width="1" height="15" fill="#c40000" />
<rect x="152" y="427" width="1" height="3" fill="#c40000" />
<rect x="191" y="427" width="1" height="3" fill="#c40000" />
<rect x="229" y="427" width="1" height="3" fill="#c40000" />
<rect x="295" y="427" width="1" height="3" fill="#c40000" />
<rect x="324" y="427" width="1" height="3" fill="#c40000" />
<rect x="353" y="427" width="1" height="3" fill="#c40000" />
<rect x="417" y="427" width="1" height="3" fill="#c40000" />
<rect x="454" y="427" width="1" height="3" fill="#c40000" />
<rect x="493" y="427" width="1" height="3" fill="#c40000" />
<rect x="568" y="427" width="1" height="3" fill="#c40000" />
<rect x="608" y="427" width="1" height="3" fill="#c40000" />
<rect x="648" y="427" width="1" height="3" fill="#c40000" />
<rect x="737" y="427" width="1" height="3" fill="#c40000" />
<text x="754.5" y="439.3" fill="#d0d0d0" >日线</text>
<rect x="2" y="458" width="791" height="2" fill="#c40000" />
<rect x="20" y="442" width="1" height="17" fill="#c40000" />
<text x="23" y="455" fill="#d0d0d0" textLength="31" lengthAdjust="spacingAndGlyphs" >指标A</text>
<text x="59.4" y="455" fill="#d0d0d0" >窗口</text>
<text x="92.4" y="455" fill="#d0d0d0" textLength="33.3" lengthAdjust="spacingAndGlyphs" >MACD</text>
<text x="134" y="455" fill="#d0d0d0" textLength="20.5" lengthAdjust="spacingAndGlyphs" >DMI</text>
<text x="163.7" y="455" fill="#d0d0d0" textLength="24" lengthAdjust="spacingAndGlyphs" >DMA</text>
<text x="197" y="455" fill="#d0d0d0" textLength="20.4" lengthAdjust="spacingAndGlyphs" >FSL</text>
<text x="227" y="455" fill="#d0d0d0" textLength="25" lengthAdjust="spacingAndGlyphs" >TRIX</text>
<text x="260.2" y="455" fill="#d0d0d0" textLength="32.3" lengthAdjust="spacingAndGlyphs" >BRAR</text>
<text x="301.6" y="455" fill="#d0d0d0" textLength="16.4" lengthAdjust="spacingAndGlyphs" >CR</text>
<text x="327.4" y="455" fill="#d0d0d0" textLength="15" lengthAdjust="spacingAndGlyphs" >VR</text>
<text x="352" y="455" fill="#d0d0d0" textLength="23" lengthAdjust="spacingAndGlyphs" >OBV</text>
<text x="383.2" y="455" fill="#d0d0d0" textLength="17.3" lengthAdjust="spacingAndGlyphs" >ASI</text>
<text x="409.6" y="455" fill="#d0d0d0" textLength="23.8" lengthAdjust="spacingAndGlyphs" >EMV</text>
<text x="441.2" y="455" fill="#d0d0d0" textLength="50" lengthAdjust="spacingAndGlyphs" >VOL-TDX</text>
<text x="499.6" y="455" fill="#d0d0d0" textLength="18" lengthAdjust="spacingAndGlyphs" >RSI</text>
<text x="526.4" y="455" fill="#d0d0d0" textLength="20.4" lengthAdjust="spacingAndGlyphs" >WR</text>
<text x="555.2" y="455" fill="#d0d0d0" textLength="23.8" lengthAdjust="spacingAndGlyphs" >SAR</text>
<text x="588.6" y="455" fill="#d0d0d0" textLength="22.2" lengthAdjust="spacingAndGlyphs" >KDJ</text>
<text x="619.3" y="455" fill="#d0d0d0" textLength="20.3" lengthAdjust="spacingAndGlyphs" >CCI</text>
<text x="673.3" y="455" fill="#d0d0d0" textLength="29.6" lengthAdjust="spacingAndGlyphs" >指标B</text>
<text x="709.8" y="455" fill="#d0d0d0" textLength="29.5" lengthAdjust="spacingAndGlyphs" >模 板</text>
<rect x="56" y="443" width="1" height="16" fill="#c40000" />
<rect x="87" y="443" width="1" height="16" fill="#c40000" />
<rect x="129" y="443" width="1" height="16" fill="#c40000" />
<rect x="158" y="443" width="1" height="16" fill="#c40000" />
<rect x="191" y="443" width="1" height="16" fill="#c40000" />
<rect x="221" y="443" width="1" height="16" fill="#c40000" />
<rect x="255" y="443" width="1" height="16" fill="#c40000" />
<rect x="296" y="443" width="1" height="16" fill="#c40000" />
<rect x="322" y="443" width="1" height="16" fill="#c40000" />
<rect x="346" y="443" width="1" height="16" fill="#c40000" />
<rect x="378" y="443" width="1" height="16" fill="#c40000" />
<rect x="404" y="443" width="1" height="16" fill="#c40000" />
<rect x="436" y="443" width="1" height="16" fill="#c40000" />
<rect x="494" y="443" width="1" height="16" fill="#c40000" />
<rect x="523" y="443" width="1" height="16" fill="#c40000" />
<rect x="550" y="443" width="1" height="16" fill="#c40000" />
<rect x="584" y="443" width="1" height="16" fill="#c40000" />
<rect x="615" y="443" width="1" height="16" fill="#c40000" />
<rect x="643" y="443" width="1" height="16" fill="#c40000" />
<rect x="657" y="443" width="1" height="16" fill="#c40000" />
<rect x="706" y="443" width="1" height="16" fill="#c40000" />
<rect x="767" y="443" width="1" height="16" fill="#c40000" />
<text x="646.6" y="456.2" fill="#d0d0d0" font-size="16" textLength="6" lengthAdjust="spacingAndGlyphs" >&gt;</text>
<text x="755.5" y="454.6" fill="#d0d0d0" text-anchor="middle" >+</text>
<text x="779" y="454.2" fill="#d0d0d0" text-anchor="middle" >−</text>
<rect x="2" y="477" width="791" height="1" fill="#c40000" />
<rect x="743" y="476" width="50" height="1" fill="#c40000" />
<rect x="42" y="460" width="1" height="17" fill="#c40000" />
<rect x="97" y="460" width="1" height="17" fill="#c40000" />
<rect x="154" y="460" width="1" height="17" fill="#c40000" />
<rect x="210" y="460" width="1" height="17" fill="#c40000" />
<text x="5.6" y="473.4" fill="#d0d0d0" >扩展</text>
<path d="M31 473.5 L34.3 468 L37.6 473.5" fill="none" stroke="#c8c8c8" stroke-width="1"/>
<text x="46.2" y="473.4" fill="#d0d0d0" >关联报价</text>
<text x="102.5" y="473.4" fill="#d8d800" >综合资讯</text>
<text x="158.6" y="473.4" fill="#d8d800" >板块资讯</text>
<text x="745" y="473.6" fill="#d8d800" >侧边栏</text>
<text x="781.5" y="473.6" fill="#d8d800" textLength="9" lengthAdjust="spacingAndGlyphs" >《</text>
<rect x="2" y="478" width="791" height="23" fill="#f4f4f4" />
<rect x="2" y="478" width="791" height="2" fill="#e9e9e9" />
<rect x="2" y="478" width="1" height="21" fill="#a8a8a8" />
<rect x="2" y="498" width="791" height="1" fill="#b4b4b4" />
<rect x="2" y="499" width="791" height="2" fill="#f8f8f8" />
<defs><linearGradient id="og" x1="0" y1="0" x2="0" y2="1"><stop offset="0" stop-color="#ffcc60"/><stop offset="1" stop-color="#f29a10"/></linearGradient></defs>
<rect x="3.7" y="483.4" width="12.8" height="12.2" rx="1.6" fill="url(#og)" stroke="#e8a020" stroke-width="0.9"/>
<rect x="6.6" y="486.4" width="7.4" height="6" fill="#f6a820" stroke="#ffe6a8" stroke-width="1"/>
<rect x="7.1" y="486.9" width="6.4" height="1.6" fill="#ffd070" />
<text x="19.2" y="494.3" fill="#000000" textLength="23.4" lengthAdjust="spacingAndGlyphs" font-weight="400" >上证</text>
<text x="46.3" y="493" fill="#ff0000" font-size="10.2" textLength="46.4" lengthAdjust="spacingAndGlyphs" font-weight="bold" font-family='"DejaVu Sans", sans-serif' >3593.15</text>
<text x="103.6" y="493" fill="#ff0000" font-size="10.2" textLength="31" lengthAdjust="spacingAndGlyphs" font-weight="bold" font-family='"DejaVu Sans", sans-serif' >25.01</text>
<text x="144.5" y="493" fill="#ff0000" font-size="10.2" textLength="35.7" lengthAdjust="spacingAndGlyphs" font-weight="bold" font-family='"DejaVu Sans", sans-serif' >0.70%</text>
<text x="188.7" y="494.3" fill="#000000" textLength="35.7" lengthAdjust="spacingAndGlyphs" font-weight="400" >4402亿</text>
<text x="238" y="494.3" fill="#000000" textLength="23.4" lengthAdjust="spacingAndGlyphs" font-weight="400" >深证</text>
<text x="266" y="493" fill="#ff0000" font-size="10.2" textLength="44.8" lengthAdjust="spacingAndGlyphs" font-weight="bold" font-family='"DejaVu Sans", sans-serif' >14499.8</text>
<text x="319" y="493" fill="#ff0000" font-size="10.2" textLength="38.3" lengthAdjust="spacingAndGlyphs" font-weight="bold" font-family='"DejaVu Sans", sans-serif' >149.75</text>
<text x="364.4" y="493" fill="#ff0000" font-size="10.2" textLength="33.8" lengthAdjust="spacingAndGlyphs" font-weight="bold" font-family='"DejaVu Sans", sans-serif' >1.04%</text>
<text x="407" y="494.3" fill="#000000" textLength="35.7" lengthAdjust="spacingAndGlyphs" font-weight="400" >5331亿</text>
<text x="457.6" y="494.3" fill="#000000" textLength="23.4" lengthAdjust="spacingAndGlyphs" font-weight="400" >沪深</text>
<text x="486" y="493" fill="#ff0000" font-size="10.2" textLength="45.3" lengthAdjust="spacingAndGlyphs" font-weight="bold" font-family='"DejaVu Sans", sans-serif' >4922.72</text>
<text x="542.8" y="493" fill="#ff0000" font-size="10.2" textLength="30.9" lengthAdjust="spacingAndGlyphs" font-weight="bold" font-family='"DejaVu Sans", sans-serif' >47.94</text>
<text x="583.6" y="493" fill="#ff0000" font-size="10.2" textLength="35.3" lengthAdjust="spacingAndGlyphs" font-weight="bold" font-family='"DejaVu Sans", sans-serif' >0.98%</text>
<text x="627.4" y="494.3" fill="#000000" textLength="35.7" lengthAdjust="spacingAndGlyphs" font-weight="400" >2829亿</text>
<rect x="678.5" y="479" width="108.5" height="20" fill="#f4f4f4" />
<rect x="678" y="479" width="1" height="20" fill="#989898" />
<rect x="786" y="479" width="1" height="20" fill="#989898" />
<rect x="681.3" y="482.2" width="49.6" height="6.2" fill="#ececec" stroke="#ffffff" stroke-width="1"/>
<rect x="693.6" y="482.7" width="1.3" height="5.4" fill="#900000" />
<rect x="694.8" y="482.7" width="10.2" height="5.4" fill="#ff0000" />
<rect x="706.2" y="482.7" width="7.6" height="5.4" fill="#008000" />
<rect x="714.8" y="482.2" width="1.2" height="6.2" fill="#ffffff" />
<rect x="717.8" y="482.2" width="1.2" height="6.2" fill="#ffffff" />
<rect x="684.9" y="490.2" width="6.3" height="1.8" fill="#ff0000" />
<rect x="692.9" y="490.2" width="6.3" height="1.8" fill="#ff0000" />
<rect x="700.9" y="490.2" width="6.3" height="1.8" fill="#ff0000" />
<rect x="708.9" y="490.2" width="6.3" height="1.8" fill="#ff0000" />
<rect x="716.9" y="490.2" width="6.3" height="1.8" fill="#ff0000" />
<rect x="724.9" y="490.2" width="6.3" height="1.8" fill="#ff0000" />
<rect x="684.9" y="493.1" width="6.3" height="1.8" fill="#ff0000" />
<rect x="692.9" y="493.1" width="6.3" height="1.8" fill="#ff0000" />
<rect x="700.9" y="493.1" width="6.3" height="1.8" fill="#ff0000" />
<rect x="708.9" y="493.1" width="6.3" height="1.8" fill="#ff0000" />
<rect x="716.9" y="493.1" width="6.3" height="1.8" fill="#ff0000" />
<rect x="724.9" y="493.1" width="6.3" height="1.8" fill="#ff0000" />
<rect x="733.7" y="482.2" width="49.6" height="6.2" fill="#ececec" stroke="#ffffff" stroke-width="1"/>
<rect x="746" y="482.7" width="1.3" height="5.4" fill="#900000" />
<rect x="747.2" y="482.7" width="10.2" height="5.4" fill="#ff0000" />
<rect x="758.6" y="482.7" width="7.6" height="5.4" fill="#008000" />
<rect x="767.2" y="482.2" width="1.2" height="6.2" fill="#ffffff" />
<rect x="770.2" y="482.2" width="1.2" height="6.2" fill="#ffffff" />
<rect x="737.3" y="490.2" width="6.3" height="1.8" fill="#ff0000" />
<rect x="745.3" y="490.2" width="6.3" height="1.8" fill="#ff0000" />
<rect x="753.3" y="490.2" width="6.3" height="1.8" fill="#ff0000" />
<rect x="761.3" y="490.2" width="6.3" height="1.8" fill="#ff0000" />
<rect x="769.3" y="490.2" width="6.3" height="1.8" fill="#ff0000" />
<rect x="777.3" y="490.2" width="6.3" height="1.8" fill="#ff0000" />
<rect x="737.3" y="493.1" width="6.3" height="1.8" fill="#ff0000" />
<rect x="745.3" y="493.1" width="6.3" height="1.8" fill="#ff0000" />
<rect x="753.3" y="493.1" width="6.3" height="1.8" fill="#ff0000" />
<rect x="761.3" y="493.1" width="6.3" height="1.8" fill="#ff0000" />
<rect x="769.3" y="493.1" width="6.3" height="1.8" fill="#ff0000" />
<rect x="777.3" y="493.1" width="6.3" height="1.8" fill="#ff0000" />
</svg>
</body></html>
